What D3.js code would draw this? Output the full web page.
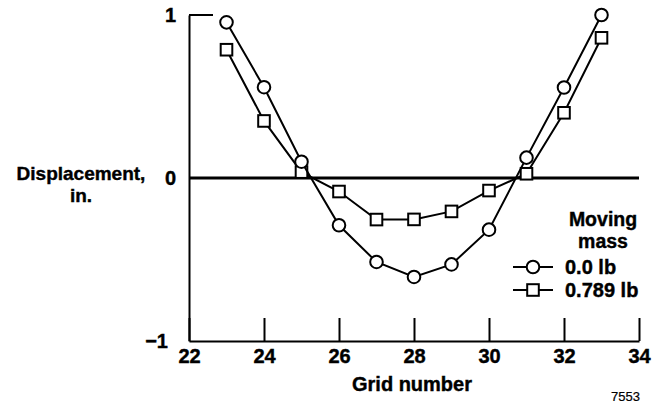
<!DOCTYPE html>
<meta charset="utf-8">
<style>
body { margin: 0; background: #fff; }
text { font-family: "Liberation Sans", Arial, sans-serif; font-weight: bold; fill: #000; stroke: #000; stroke-width: 0.4px; }
.series path { fill: none; stroke: #000; stroke-width: 2px; }
.domain { stroke: #000; stroke-width: 2px; }
.tick line { stroke: #000; stroke-width: 2px; }
</style>
<svg width="653" height="405"></svg>
<script src="https://d3js.org/d3.v7.min.js"></script>
<script>

var gridNumbers = [23, 24, 25, 26, 27, 28, 29, 30, 31, 32, 33];
var mass0 = [0.955, 0.557, 0.10, -0.29, -0.515, -0.607, -0.53, -0.317, 0.125, 0.555, 1.0];
var mass789 = [0.787, 0.35, 0.036, -0.083, -0.255, -0.254, -0.205, -0.077, 0.026, 0.40, 0.86];
var xTicks = [22, 24, 26, 28, 30, 32, 34];
var yTicks = [-1, 0, 1];
var seriesNames = ["0.0 lb", "0.789 lb"];
var seriesShapes = ["circle", "square"];

var svg = d3.select("svg");

var x = d3.scaleLinear().domain([22, 34]).range([189, 639]);
var y = d3.scaleLinear().domain([-1, 1]).range([341, 15]);

// bottom axis, ticks pointing up
var xAxis = svg.append("g")
    .attr("transform", "translate(0," + y(-1) + ")")
    .call(d3.axisBottom(x).tickValues(xTicks).tickSizeInner(-23).tickSizeOuter(0).tickPadding(8));
xAxis.selectAll("text").style("font-size", "20px").attr("font-family", null);

// left axis
var yAxis = svg.append("g")
    .attr("transform", "translate(" + x(22) + ",0)")
    .call(d3.axisLeft(y).tickValues(yTicks).tickSize(0).tickPadding(13).tickFormat(function(d) { return d < 0 ? "\u2212" + Math.abs(d) : d; }));
yAxis.selectAll("text").style("font-size", "20px").attr("font-family", null);
yAxis.selectAll(".tick").filter(function(d) { return d == -1; }).select("text").attr("x", -21);

// top tick, pointing inward
svg.append("line")
    .attr("x1", x(22)).attr("x2", x(22) + 24)
    .attr("y1", y(1)).attr("y2", y(1))
    .attr("stroke", "#000").attr("stroke-width", 2);

// zero line
svg.append("line")
    .attr("x1", x(22)).attr("x2", x(34))
    .attr("y1", y(0)).attr("y2", y(0))
    .attr("stroke", "#000").attr("stroke-width", 3);

var line = d3.line()
    .x(function(d) { return x(d[0]); })
    .y(function(d) { return y(d[1]); });

function drawMarker(g, shape, cx, cy) {
  if (shape == "circle") {
    g.append("circle").attr("cx", cx).attr("cy", cy).attr("r", 6.3)
      .attr("fill", "#fff").attr("stroke", "#000").attr("stroke-width", 2);
  } else {
    g.append("rect").attr("x", cx - 5.8).attr("y", cy - 5.8).attr("width", 11.6).attr("height", 11.6)
      .attr("fill", "#fff").attr("stroke", "#000").attr("stroke-width", 2);
  }
}

var allSeries = [mass0, mass789];
// draw squares first so circles sit on top
[1, 0].forEach(function(i) {
  var pts = gridNumbers.map(function(g, j) { return [g, allSeries[i][j]]; });
  var g = svg.append("g").attr("class", "series");
  g.append("path").attr("d", line(pts));
  pts.forEach(function(p) { drawMarker(g, seriesShapes[i], x(p[0]), y(p[1])); });
});

// axis titles
svg.append("text").attr("x", 81).attr("y", 180).attr("text-anchor", "middle")
    .style("font-size", "19px").text("Displacement,");
svg.append("text").attr("x", 81).attr("y", 202).attr("text-anchor", "middle")
    .style("font-size", "19px").text("in.");
svg.append("text").attr("x", 412).attr("y", 391).attr("text-anchor", "middle")
    .style("font-size", "20px").text("Grid number");
svg.append("text").attr("x", 640).attr("y", 401).attr("text-anchor", "end")
    .style("font-size", "13px").style("font-weight", "normal").style("stroke-width", "0.2px").text("7553");

// legend
svg.append("text").attr("x", 603).attr("y", 226).attr("text-anchor", "middle")
    .style("font-size", "19.5px").text("Moving");
svg.append("text").attr("x", 603).attr("y", 248).attr("text-anchor", "middle")
    .style("font-size", "19.5px").text("mass");

var legend = svg.append("g").attr("class", "series");
seriesNames.forEach(function(name, i) {
  var ly = 267 + i * 23;
  legend.append("path").attr("d", "M513," + ly + "H553");
  drawMarker(legend, seriesShapes[i], 533, ly);
  legend.append("text").attr("x", 565).attr("y", ly + 7)
    .style("font-size", "20px").text(name);
});

</script>
